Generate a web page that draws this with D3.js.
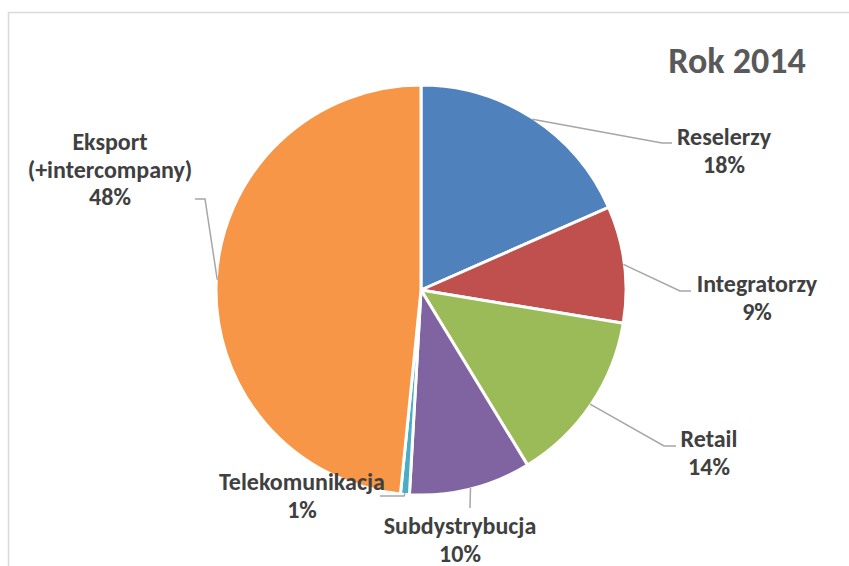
<!DOCTYPE html>
<html>
<head>
<meta charset="utf-8">
<script src="https://cdn.jsdelivr.net/npm/d3@7"></script>
<style>
  html, body { margin: 0; padding: 0; background: #fff; }
  svg { display: block; }
</style>
</head>
<body>
<svg id="chart" width="849" height="566"></svg>
<script>
// ---- data ----
const title = "Rok 2014";
const categories = ["Reselerzy", "Integratorzy", "Retail", "Subdystrybucja", "Telekomunikacja", "Eksport\n(+intercompany)"];
const values = [18.4, 9.2, 13.7, 9.6, 0.7, 48.4];
const colors = ["#4F81BD", "#C0504D", "#9BBB59", "#8064A2", "#4BACC6", "#F79646"];

// ---- layout (label placement, leader elbows) ----
const labelPos = [
  { x: 724, y: 145, path: [[662, 143], [672, 143]] },
  { x: 757, y: 292, path: [[680, 291], [691, 291]] },
  { x: 709, y: 447, path: [[664, 446], [676, 446]] },
  { x: 460, y: 534, path: [[470, 508]] },
  { x: 302, y: 490, path: [[404, 496], [380, 496]] },
  { x: 110, y: 150, path: [[205, 199], [195, 199]] }
];

const W = 849, H = 566;
const cx = 421, cy = 290, R = 205;
const lineH = 27.5;
const font = "Carlito, Calibri, Lato, 'Open Sans', sans-serif";

const svg = d3.select("#chart");

// chart frame
svg.append("rect")
  .attr("x", 8.5).attr("y", 12.5)
  .attr("width", 900).attr("height", 600)
  .attr("fill", "#fff")
  .attr("stroke", "#d9d9d9").attr("stroke-width", 1.5);

// title
svg.append("text")
  .attr("x", 737).attr("y", 73)
  .attr("text-anchor", "middle")
  .attr("font-family", font)
  .attr("font-weight", 700)
  .attr("font-size", 36)
  .attr("fill", "#595959")
  .text(title);

const total = d3.sum(values);
const pie = d3.pie().sort(null).value(d => d)(values);
const arc = d3.arc().innerRadius(0).outerRadius(R);
const edge = d3.arc().innerRadius(R - 1).outerRadius(R - 1);

const g = svg.append("g").attr("transform", `translate(${cx},${cy})`);

g.selectAll("path.slice")
  .data(pie)
  .join("path")
  .attr("class", "slice")
  .attr("d", arc)
  .attr("fill", (d, i) => colors[i])
  .attr("stroke", "#fff")
  .attr("stroke-width", 3)
  .attr("stroke-linejoin", "round");

// leader lines
const line = d3.line();
svg.selectAll("path.leader")
  .data(pie)
  .join("path")
  .attr("class", "leader")
  .attr("d", (d, i) => {
    const c = edge.centroid(d);
    const pts = [[cx + c[0], cy + c[1]]].concat(labelPos[i].path);
    return line(pts);
  })
  .attr("fill", "none")
  .attr("stroke", "#a6a6a6")
  .attr("stroke-width", 1.5);

// labels
const fmt = d3.format(".0%");
const lab = svg.selectAll("text.lab")
  .data(pie)
  .join("text")
  .attr("class", "lab")
  .attr("text-anchor", "middle")
  .attr("font-family", font)
  .attr("font-weight", 700)
  .attr("font-size", 24)
  .attr("fill", "#404040");

lab.each(function (d, i) {
  const lines = categories[i].split("\n").concat([fmt(d.data / total)]);
  const t = d3.select(this);
  lines.forEach((s, k) => {
    t.append("tspan")
      .attr("x", labelPos[i].x)
      .attr("y", labelPos[i].y + k * lineH)
      .text(s);
  });
});
</script>
</body>
</html>
